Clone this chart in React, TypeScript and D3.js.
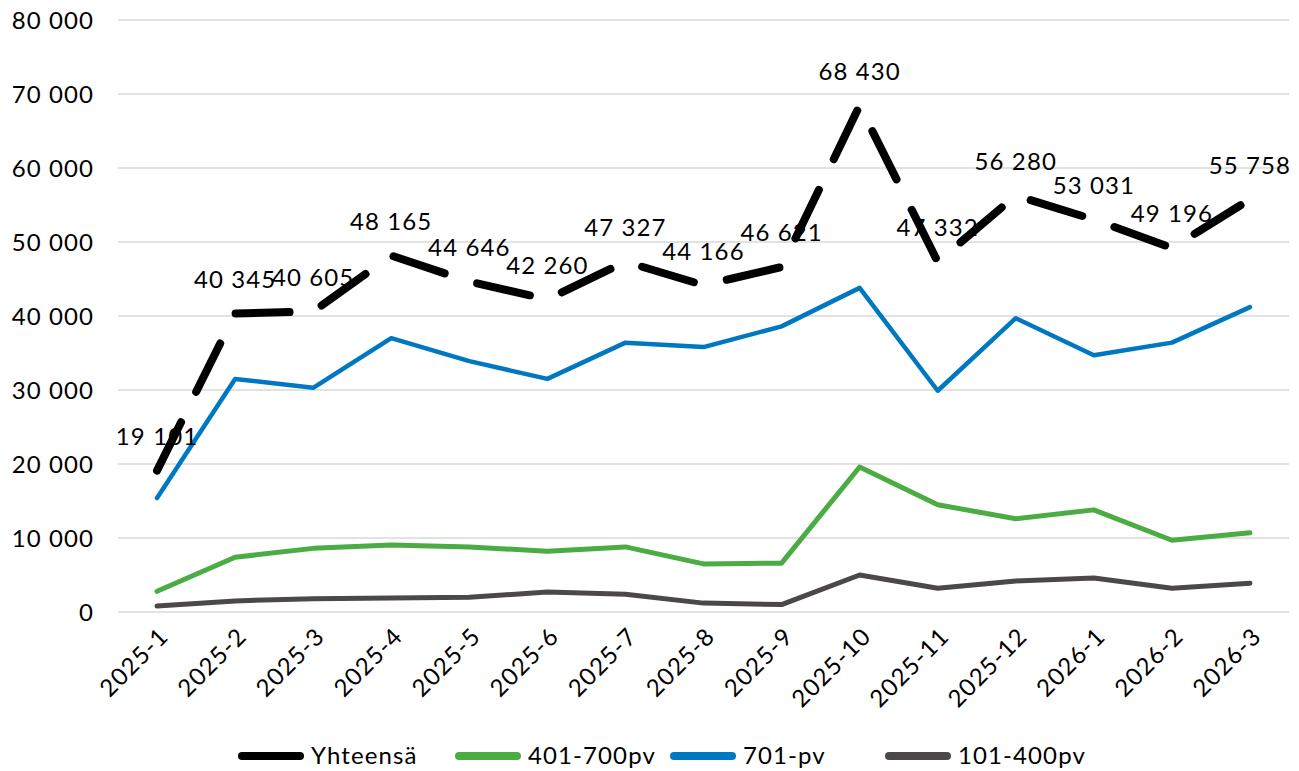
import React from "react";
import * as d3 from "d3";

const categories = ["2025-1","2025-2","2025-3","2025-4","2025-5","2025-6","2025-7","2025-8","2025-9","2025-10","2025-11","2025-12","2026-1","2026-2","2026-3"];
const total = [19101,40345,40605,48165,44646,42260,47327,44166,46621,68430,47332,56280,53031,49196,55758];
const d401_700 = [2800,7400,8600,9050,8800,8200,8800,6500,6600,19600,14500,12600,13800,9700,10700];
const d701 = [15400,31500,30300,37000,33900,31500,36400,35800,38600,43800,29900,39700,34700,36400,41200];
const d101_400 = [800,1500,1800,1900,2000,2700,2400,1200,1000,5000,3200,4200,4600,3200,3900];
const yTicks = [0,10000,20000,30000,40000,50000,60000,70000,80000];

const FONT = "Lato, 'Open Sans', sans-serif";
const FS = 24;
const LS = 1.1;

const fmt = (v: number) => {
  const s = String(Math.round(v));
  return s.replace(/\B(?=(\d{3})+(?!\d))/g, " ");
};

export default function App() {
  const W = 1299, H = 771;
  const x = d3.scaleBand<string>().domain(categories).range([118, 1289]);
  const cx = (c: string) => (x(c) as number) + x.bandwidth() / 2;
  const y = d3.scaleLinear().domain([0, 80000]).range([612, 20]);
  const line = d3.line<number>().x((_, i) => cx(categories[i])).y((d) => y(d));

  const series = [
    { name: "701-pv", data: d701, color: "#0078C1", width: 4.5 },
    { name: "401-700pv", data: d401_700, color: "#4BAC44", width: 5 },
    { name: "101-400pv", data: d101_400, color: "#4D4848", width: 5 },
  ];

  const legend = [
    { name: "Yhteensä", color: "#000000", x: 242 },
    { name: "401-700pv", color: "#4BAC44", x: 459 },
    { name: "701-pv", color: "#0078C1", x: 674 },
    { name: "101-400pv", color: "#4D4848", x: 889 },
  ];

  return (
    <svg width={W} height={H} style={{ position: "absolute", left: 0, top: 0, background: "#fff" }} fontFamily={FONT} letterSpacing={LS}>
      {yTicks.map((t) => (
        <g key={t}>
          <line x1={118} x2={1289} y1={y(t)} y2={y(t)} stroke="#D9D9D9" strokeWidth={1.5} />
          <text x={94} y={y(t)} dy="0.36em" textAnchor="end" fontSize={FS} fill="#000">{fmt(t)}</text>
        </g>
      ))}
      {categories.map((c) => (
        <text key={c} transform={`translate(${cx(c) + 7},${632}) rotate(-45)`} textAnchor="end" fontSize={FS} fill="#000" dy="0.35em">{c}</text>
      ))}
      {series.map((s) => (
        <path key={s.name} d={line(s.data) || ""} fill="none" stroke={s.color} strokeWidth={s.width} strokeLinejoin="round" strokeLinecap="round" />
      ))}
      <path d={line(total) || ""} fill="none" stroke="#000" strokeWidth={8} strokeLinecap="round" strokeLinejoin="round" strokeDasharray="54 34" />
      {total.map((v, i) => (
        <text key={i} x={cx(categories[i])} y={y(v) - 34} dy="0.35em" textAnchor="middle" fontSize={FS} fill="#000">{fmt(v)}</text>
      ))}
      {legend.map((l) => (
        <g key={l.name}>
          <line x1={l.x} x2={l.x + 58} y1={756} y2={756} stroke={l.color} strokeWidth={8} strokeLinecap="round" />
          <text x={l.x + 69} y={756} dy="0.35em" fontSize={FS} fill="#000">{l.name}</text>
        </g>
      ))}
    </svg>
  );
}
